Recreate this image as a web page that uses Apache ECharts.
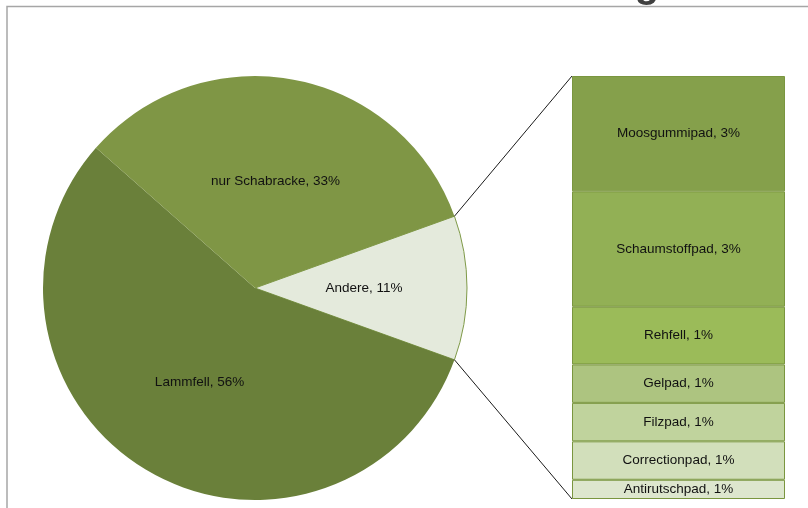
<!DOCTYPE html>
<html>
<head>
<meta charset="utf-8">
<script src="https://cdn.jsdelivr.net/npm/echarts@6/dist/echarts.min.js"></script>
<style>
  html, body { margin: 0; padding: 0; background: #ffffff; }
  #chart { width: 808px; height: 508px; }
</style>
</head>
<body>
<div id="chart"></div>
<script>
// Main pie: counts per category (the "Andere" slice is the sum of the detail column)
const mainNames = ['Lammfell', 'nur Schabracke'];
const mainCounts = [112, 66];
const otherName = 'Andere';

// Breakdown of "Andere", drawn as the stacked column on the right (top to bottom)
const detailNames = ['Moosgummipad', 'Schaumstoffpad', 'Rehfell', 'Gelpad', 'Filzpad', 'Correctionpad', 'Antirutschpad'];
const detailCounts = [6, 6, 3, 2, 2, 2, 1];

// Colours
const mainColors = ['#6a803a', '#7f9645'];
const otherColor = '#e4eadc';
const detailColors = ['#85a04b', '#92b055', '#9bbb59', '#adc480', '#c0d39d', '#d2dfbb', '#dde6ce'];

const FONT = "'Liberation Sans Narrow', 'Arial Narrow', 'Liberation Sans', Arial, sans-serif";
const FONT_SIZE = 13.5;

const otherCount = detailCounts.reduce((a, b) => a + b, 0);
const total = mainCounts.reduce((a, b) => a + b, 0) + otherCount;

// Percent as shown by the spreadsheet (two-decimal rounding of the share)
function pct(v) {
  return Math.round(parseFloat((v / total).toFixed(2)) * 100);
}

// Layout
const PIE_CX = 255, PIE_CY = 288, PIE_R = 212;
const BAR_LEFT = 572, BAR_RIGHT = 785, BAR_TOP = 76, BAR_BOTTOM = 499;
const halfOther = otherCount / total * 180;  // half of the "Andere" wedge, degrees

const chart = echarts.init(document.getElementById('chart'), null, { renderer: 'canvas' });

const pieData = [{
  name: otherName, value: otherCount,
  itemStyle: { color: otherColor, borderColor: '#7f9a48', borderWidth: 1 }
}].concat(mainNames.map((n, i) => ({
  name: n, value: mainCounts[i],
  itemStyle: { color: mainColors[i], borderWidth: 0 }
})));

const barSeries = detailNames.map((n, i) => ({
  type: 'bar',
  name: n,
  stack: 'detail',
  barWidth: '100%',
  data: [detailCounts[i]],
  itemStyle: { color: detailColors[i], borderColor: '#7a963f', borderWidth: 1 },
  label: {
    show: true,
    position: 'inside',
    color: '#111',
    fontFamily: FONT,
    fontSize: FONT_SIZE,
    formatter: () => n + ', ' + pct(detailCounts[i]) + '%'
  },
  emphasis: { disabled: true },
  silent: true
}));

chart.setOption({
  animation: false,
  backgroundColor: '#ffffff',
  grid: { left: BAR_LEFT, top: BAR_TOP, width: BAR_RIGHT - BAR_LEFT, height: BAR_BOTTOM - BAR_TOP },
  xAxis: { type: 'category', data: [''], show: false, boundaryGap: true },
  yAxis: { type: 'value', min: 0, max: otherCount, inverse: true, show: false },
  series: [{
    type: 'pie',
    center: [PIE_CX, PIE_CY],
    radius: [0, PIE_R],
    startAngle: halfOther,
    clockwise: true,
    minShowLabelAngle: 0,
    avoidLabelOverlap: false,
    silent: true,
    emphasis: { disabled: true },
    label: {
      show: true,
      position: 'inside',
      color: '#111',
      fontFamily: FONT,
      fontSize: FONT_SIZE,
      formatter: p => p.name + ', ' + pct(p.value) + '%'
    },
    labelLine: { show: false },
    data: pieData
  }].concat(barSeries)
});

// Connector lines from the "Andere" wedge edges to the column corners, plus frame and title fragment
const a = halfOther * Math.PI / 180;
const upper = [PIE_CX + PIE_R * Math.cos(a), PIE_CY - PIE_R * Math.sin(a)];
const lower = [PIE_CX + PIE_R * Math.cos(a), PIE_CY + PIE_R * Math.sin(a)];
const colTop = chart.convertToPixel({ yAxisIndex: 0 }, 0);
const colBottom = chart.convertToPixel({ yAxisIndex: 0 }, otherCount);

chart.setOption({
  graphic: [
    {
      type: 'rect', z: -10, silent: true,
      shape: { x: 7, y: 6.5, width: 900, height: 600 },
      style: { fill: 'none', stroke: '#a6a6a6', lineWidth: 1.5 }
    },
    {
      type: 'text', silent: true,
      style: {
        text: 'g', x: 647, y: -14,
        align: 'center', verticalAlign: 'middle',
        font: "bold 40px 'Liberation Sans', Arial, sans-serif",
        fill: '#404040'
      }
    },
    {
      type: 'line', silent: true, z: 10,
      shape: { x1: upper[0], y1: upper[1], x2: BAR_LEFT, y2: colTop },
      style: { stroke: '#1a1a1a', lineWidth: 1 }
    },
    {
      type: 'line', silent: true, z: 10,
      shape: { x1: lower[0], y1: lower[1], x2: BAR_LEFT, y2: colBottom },
      style: { stroke: '#1a1a1a', lineWidth: 1 }
    }
  ]
});
</script>
</body>
</html>
